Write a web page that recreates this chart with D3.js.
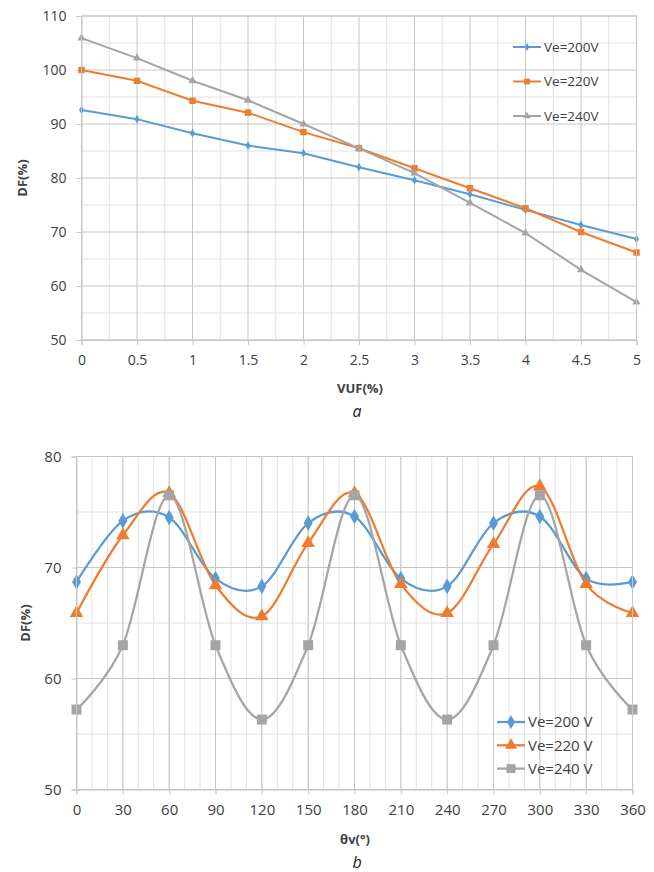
<!DOCTYPE html>
<html>
<head>
<meta charset="utf-8">
<script src="https://cdn.jsdelivr.net/npm/d3@7"></script>
<style>
  body { margin: 0; background: #fff; }
  svg { display: block; font-family: "Open Sans", sans-serif; }
</style>
</head>
<body>
<svg width="654" height="872"></svg>
<script>
// ---- panel a data ----
var vufValues = [0, 0.5, 1, 1.5, 2, 2.5, 3, 3.5, 4, 4.5, 5];
var dfA200 = [92.6, 90.9, 88.3, 86.0, 84.6, 82.0, 79.6, 77.0, 74.1, 71.3, 68.7];
var dfA220 = [100.0, 98.0, 94.3, 92.1, 88.5, 85.5, 81.8, 78.1, 74.4, 70.0, 66.2];
var dfA240 = [105.9, 102.2, 98.0, 94.4, 90.0, 85.5, 80.9, 75.4, 69.8, 63.0, 57.0];
var yTicksA = [50, 60, 70, 80, 90, 100, 110];

// ---- panel b data ----
var thetaValues = [0, 30, 60, 90, 120, 150, 180, 210, 240, 270, 300, 330, 360];
var dfB200 = [68.7, 74.2, 74.5, 69.0, 68.3, 74.0, 74.6, 69.0, 68.3, 74.0, 74.6, 69.0, 68.7];
var dfB220 = [65.9, 72.9, 76.7, 68.4, 65.6, 72.2, 76.7, 68.5, 65.9, 72.1, 77.3, 68.5, 65.9];
var dfB240 = [57.2, 63.0, 76.5, 63.0, 56.3, 63.0, 76.5, 63.0, 56.3, 63.0, 76.5, 63.0, 57.2];
var yTicksB = [50, 60, 70, 80];

var colors = ["#5b9bd5", "#ed7d31", "#a5a5a5"];

var svg = d3.select("svg");

function drawPanel(cfg) {
  var g = svg.append("g");
  var x = d3.scaleLinear().domain(cfg.xDomain).range([cfg.left, cfg.right]);
  var y = d3.scaleLinear().domain(cfg.yDomain).range([cfg.bottom, cfg.top]);

  // minor grid
  g.append("g").selectAll("line").data(cfg.xMinor).enter().append("line")
    .attr("x1", d => x(d)).attr("x2", d => x(d))
    .attr("y1", cfg.top).attr("y2", cfg.bottom)
    .attr("stroke", "#e2e2e2").attr("stroke-width", 1);
  g.append("g").selectAll("line").data(cfg.yMinor).enter().append("line")
    .attr("y1", d => y(d)).attr("y2", d => y(d))
    .attr("x1", cfg.left).attr("x2", cfg.right)
    .attr("stroke", "#e2e2e2").attr("stroke-width", 1);
  // major grid
  g.append("g").selectAll("line").data(cfg.xTicks).enter().append("line")
    .attr("x1", d => x(d)).attr("x2", d => x(d))
    .attr("y1", cfg.top).attr("y2", cfg.bottom)
    .attr("stroke", "#c6c6c6").attr("stroke-width", 1);
  g.append("g").selectAll("line").data(cfg.yTicks).enter().append("line")
    .attr("y1", d => y(d)).attr("y2", d => y(d))
    .attr("x1", cfg.left).attr("x2", cfg.right)
    .attr("stroke", "#c6c6c6").attr("stroke-width", 1);

  // axes with short outward ticks
  var xAxis = g.append("g")
    .attr("transform", "translate(0," + cfg.bottom + ")")
    .call(d3.axisBottom(x).tickValues(cfg.xTicks).tickSize(5).tickPadding(10).tickFormat(d => d));
  var yAxis = g.append("g")
    .attr("transform", "translate(" + cfg.left + ",0)")
    .call(d3.axisLeft(y).tickValues(cfg.yTicks).tickSize(5).tickPadding(10));
  [xAxis, yAxis].forEach(function(a) {
    a.select(".domain").attr("stroke", "#c6c6c6");
    a.selectAll(".tick line").attr("stroke", "#c6c6c6");
    a.selectAll("text").attr("fill", "#404040")
      .style("font-family", "Open Sans, sans-serif")
      .style("font-size", cfg.tickFont + "px");
  });

  // series
  cfg.series.forEach(function(s, i) {
    var line = d3.line()
      .x((d, j) => x(cfg.xValues[j]))
      .y(d => y(d))
      .curve(cfg.curve);
    g.append("path").datum(s.values)
      .attr("d", line)
      .attr("fill", "none")
      .attr("stroke", colors[i])
      .attr("stroke-width", cfg.lineWidth);
  });
  cfg.series.forEach(function(s, i) {
    g.append("g").selectAll("path").data(s.values).enter().append("path")
      .attr("transform", (d, j) => "translate(" + x(cfg.xValues[j]) + "," + y(d) + ")")
      .attr("d", d3.symbol().type(s.symbol).size(s.size))
      .attr("fill", colors[i]);
  });

  // legend
  cfg.series.forEach(function(s, i) {
    var ly = cfg.legendY + i * cfg.legendGap;
    var lg = g.append("g");
    lg.append("line")
      .attr("x1", cfg.legendX).attr("x2", cfg.legendX + 28)
      .attr("y1", ly).attr("y2", ly)
      .attr("stroke", colors[i]).attr("stroke-width", cfg.lineWidth);
    lg.append("path")
      .attr("transform", "translate(" + (cfg.legendX + 14) + "," + ly + ")")
      .attr("d", d3.symbol().type(s.symbol).size(s.size * 0.8))
      .attr("fill", colors[i]);
    lg.append("text")
      .attr("x", cfg.legendX + 31).attr("y", ly)
      .attr("dy", "0.35em")
      .attr("fill", "#404040")
      .style("font-size", cfg.legendFont + "px")
      .text(s.name);
  });

  // axis titles
  g.append("text")
    .attr("transform", "translate(" + cfg.yTitleX + "," + ((cfg.top + cfg.bottom) / 2) + ") rotate(-90)")
    .attr("text-anchor", "middle")
    .attr("fill", "#404040")
    .style("font-weight", "bold").style("font-size", "13px")
    .text("DF(%)");
  g.append("text")
    .attr("x", cfg.xTitleX).attr("y", cfg.xTitleY)
    .attr("text-anchor", "middle")
    .attr("fill", "#404040")
    .style("font-weight", "bold").style("font-size", "13px")
    .text(cfg.xTitle);
  g.append("text")
    .attr("x", 357).attr("y", cfg.captionY)
    .attr("text-anchor", "middle")
    .attr("fill", "#222")
    .style("font-style", "italic").style("font-size", "16px")
    .text(cfg.caption);

  // plot outline
  g.append("rect")
    .attr("x", cfg.left).attr("y", cfg.top)
    .attr("width", cfg.right - cfg.left).attr("height", cfg.bottom - cfg.top)
    .attr("fill", "none").attr("stroke", "#c6c6c6");
}

drawPanel({
  left: 81.5, right: 636.5, top: 16, bottom: 340,
  xDomain: [0, 5], yDomain: [50, 110],
  xValues: vufValues, xTicks: vufValues, yTicks: yTicksA,
  xMinor: d3.range(0.25, 5, 0.5), yMinor: d3.range(55, 110, 10),
  curve: d3.curveLinear, lineWidth: 2, tickFont: 14,
  series: [
    { name: "Ve=200V", values: dfA200, symbol: d3.symbolDiamond, size: 22 },
    { name: "Ve=220V", values: dfA220, symbol: d3.symbolSquare, size: 42 },
    { name: "Ve=240V", values: dfA240, symbol: d3.symbolTriangle, size: 30 }
  ],
  legendX: 513, legendY: 47, legendGap: 34.5, legendFont: 13.5,
  yTitleX: 27, xTitle: "VUF(%)", xTitleX: 360, xTitleY: 393,
  caption: "a", captionY: 417
});

drawPanel({
  left: 76.5, right: 632.5, top: 456.5, bottom: 789.5,
  xDomain: [0, 360], yDomain: [50, 80],
  xValues: thetaValues, xTicks: thetaValues, yTicks: yTicksB,
  xMinor: d3.range(10, 360, 10), yMinor: d3.range(55, 80, 10),
  curve: d3.curveCardinal, lineWidth: 2.25, tickFont: 15,
  series: [
    { name: "Ve=200 V", values: dfB200, symbol: d3.symbolDiamond, size: 70 },
    { name: "Ve=220 V", values: dfB220, symbol: d3.symbolTriangle, size: 80 },
    { name: "Ve=240 V", values: dfB240, symbol: d3.symbolSquare, size: 100 }
  ],
  legendX: 497, legendY: 722, legendGap: 23.3, legendFont: 15,
  yTitleX: 30, xTitle: "θv(°)", xTitleX: 355, xTitleY: 844,
  caption: "b", captionY: 868
});
</script>
</body>
</html>
